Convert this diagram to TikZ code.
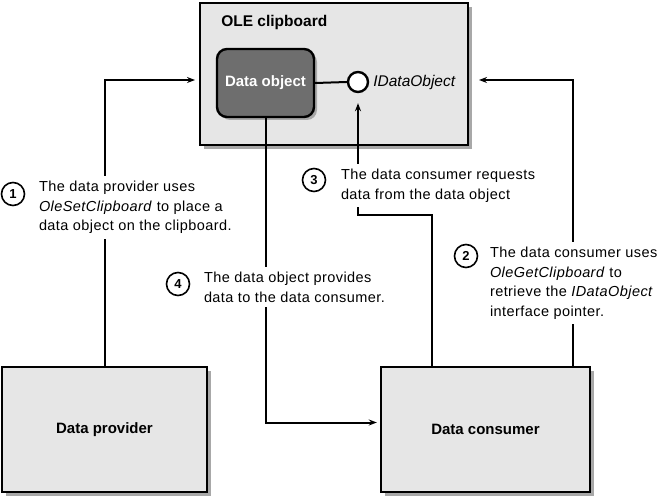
\documentclass[tikz,border=0pt]{standalone}
\usepackage{fontspec}
\setmainfont{Liberation Sans}
\usetikzlibrary{arrows.meta,positioning,shadows}
\definecolor{panelgray}{HTML}{E6E6E6}
\definecolor{objgray}{HTML}{6E6E6E}
\definecolor{shadowgray}{HTML}{A8A8A8}

\begin{document}
\begin{tikzpicture}[
  x=1pt, y=-1pt,
  >={Stealth[length=8pt,width=6pt]},
  line width=2pt,
  panel/.style={draw=black, line width=2.4pt, fill=panelgray,
    general shadow={fill=shadowgray, shadow xshift=4pt, shadow yshift=-4pt}},
  dataobj/.style={draw=black, line width=2.4pt, fill=objgray, rounded corners=10pt,
    text=white, font=\bfseries\fontsize{15}{18}\selectfont,
    general shadow={fill=shadowgray, shadow xshift=3pt, shadow yshift=-3pt}},
  lollipop/.style={circle, draw=black, line width=2.4pt, fill=white, minimum size=20pt, inner sep=0pt},
  stepnum/.style={circle, draw=black, line width=1.6pt, fill=white, minimum size=23pt, inner sep=0pt,
    font=\bfseries\fontsize{13}{15}\selectfont},
  note/.style={anchor=north west, align=left, fill=white, inner sep=5pt,
    font=\fontsize{14.5}{19.5}\selectfont\addfontfeatures{LetterSpace=3}},
  flow/.style={->, draw=black, line width=2pt},
  link/.style={draw=black, line width=2pt}
]
  \useasboundingbox (0,0) rectangle (662,497);

  % boxes
  \node[panel, minimum width=268pt, minimum height=142pt] (clip) at (334,74) {};
  \node[font=\bfseries\fontsize{15.5}{18}\selectfont, anchor=base west] (cliptitle) at (217,27) {OLE clipboard};
  \node[dataobj, minimum width=97pt, minimum height=68pt] (dobj) at (265.5,83) {Data object};
  \node[lollipop] (iface) at (358,82) {};
  \node[font=\itshape\fontsize{15.5}{18}\selectfont, anchor=west] (ifacename) at (369,82) {IDataObject};

  \node[panel, minimum width=205pt, minimum height=125pt, font=\bfseries\fontsize{15}{18}\selectfont] (prov) at (104.5,429.5) {Data provider};
  \node[panel, minimum width=209pt, minimum height=125pt, font=\bfseries\fontsize{15}{18}\selectfont] (cons) at (485.5,429.5) {Data consumer};

  % connectors
  \coordinate (inL) at (195,80);
  \coordinate (inR) at (479,80);
  \draw[link] (dobj.east) -- (iface.west);
  \draw[flow] (prov.north) |- (inL);
  \draw[flow] ([xshift=87.5pt]cons.north) |- (inR);
  \draw[flow, shorten >=10pt] ([xshift=-53.5pt]cons.north) -- ++(0,-151) -| (iface.south);
  \draw[flow, shorten >=3pt] (dobj.south) |- ([yshift=7pt]cons.west);

  % steps
  \node[stepnum] (n1) at (13,194) {1};
  \node[note] (t1) at (33,175) {The data provider uses\\\textit{OleSetClipboard} to place a\\data object on the clipboard.};
  \node[stepnum] (n2) at (466,256) {2};
  \node[note] (t2) at (484,241) {The data consumer uses\\\textit{OleGetClipboard} to\\retrieve the \textit{IDataObject}\\interface pointer.};
  \node[stepnum] (n3) at (314,180) {3};
  \node[note] (t3) at (335,163) {The data consumer requests\\data from the data object};
  \node[stepnum] (n4) at (178,284) {4};
  \node[note] (t4) at (198,266) {The data object provides\\data to the data consumer.};
\end{tikzpicture}
\end{document}
